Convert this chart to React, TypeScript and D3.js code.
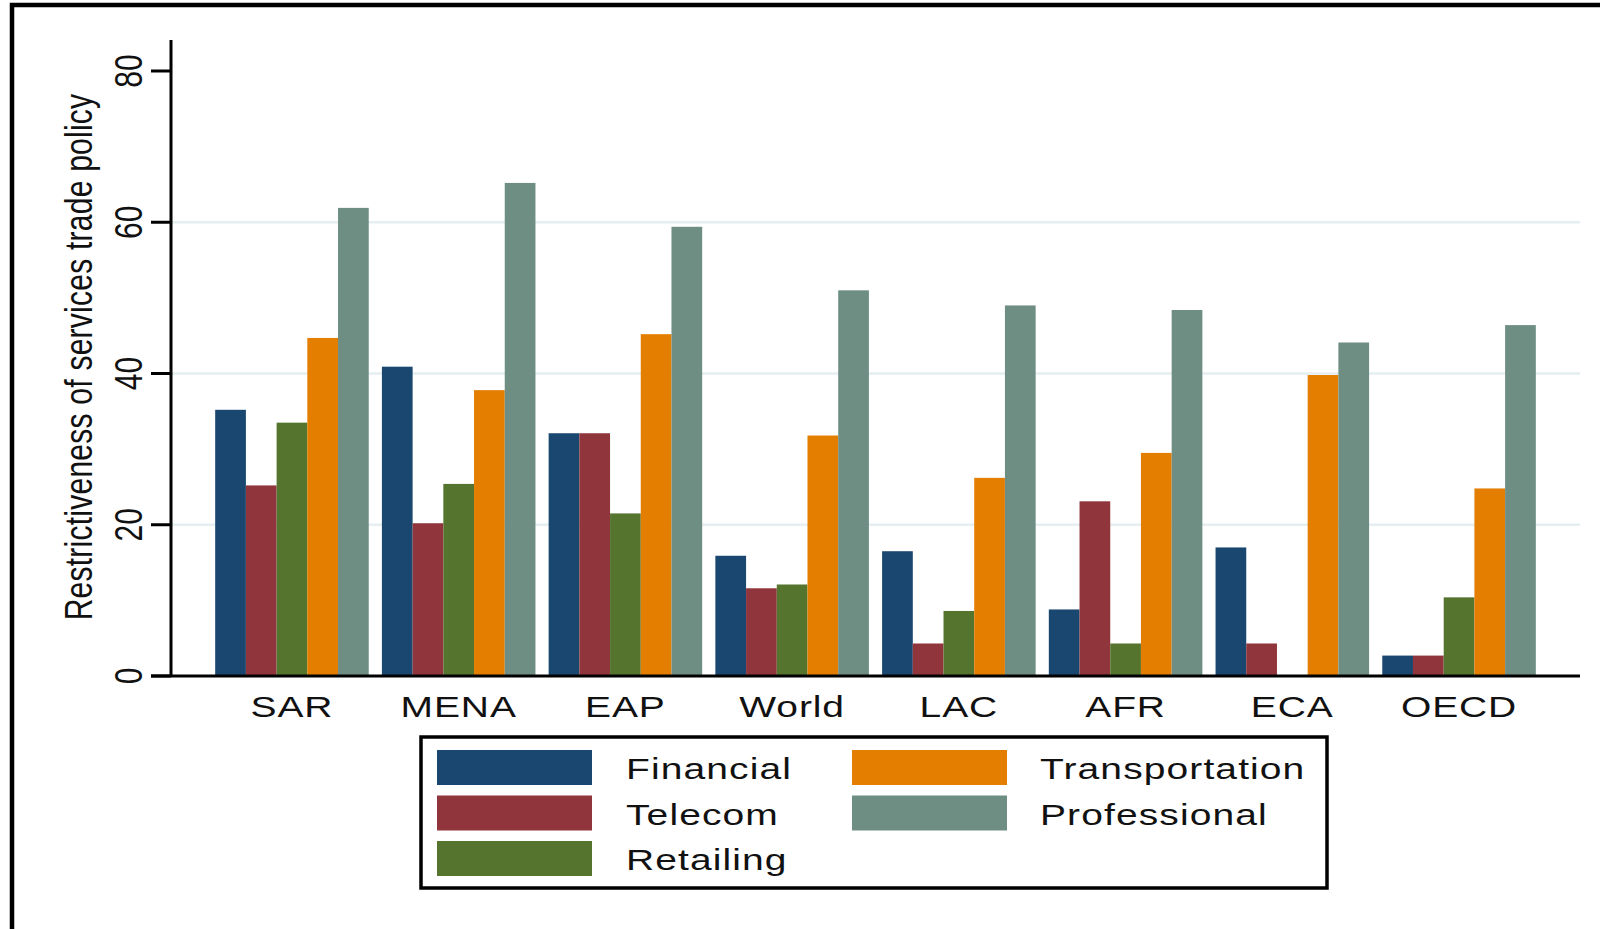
import React from "react";
import * as d3 from "d3";

const categories = ["SAR", "MENA", "EAP", "World", "LAC", "AFR", "ECA", "OECD"];
const seriesNames = ["Financial", "Telecom", "Retailing", "Transportation", "Professional"];
const financial = [35.2, 40.9, 32.1, 15.9, 16.5, 8.8, 17.0, 2.7];
const telecom = [25.2, 20.2, 32.1, 11.6, 4.3, 23.1, 4.3, 2.7];
const retailing = [33.5, 25.4, 21.5, 12.1, 8.6, 4.3, 0, 10.4];
const transportation = [44.7, 37.8, 45.2, 31.8, 26.2, 29.5, 39.8, 24.8];
const professional = [61.9, 65.2, 59.4, 51.0, 49.0, 48.4, 44.1, 46.4];
const yTicks = [0, 20, 40, 60, 80];
const gridTicks = [20, 40, 60];
const seriesColors = ["#1a476f", "#90353b", "#55752f", "#e37e00", "#6e8e84"];
const yTitle = "Restrictiveness of services trade policy";

const seriesValues = [financial, telecom, retailing, transportation, professional];

const W = 1600;
const H = 929;
const FONT = "'Liberation Sans', Arial, sans-serif";
const SX = 1.3;
const FS = 30;

export default function App() {
  const plotLeft = 171;
  const plotRight = 1580;
  const y0 = 676;
  const y80 = 71;
  const x = d3
    .scaleBand<string>()
    .domain(categories)
    .range([plotLeft, plotRight])
    .paddingInner(0.079)
    .paddingOuter(0.265);
  const xi = d3
    .scaleBand<string>()
    .domain(seriesNames)
    .range([0, x.bandwidth()])
    .padding(0);
  const y = d3.scaleLinear().domain([0, 80]).range([y0, y80]);

  // legend layout
  const legX = 421;
  const legY = 737;
  const legW = 906;
  const legH = 151;
  const colX = [437, 852];
  const textX = [626, 1040];
  const rowY = [750, 795.5, 841];
  const swW = 155;
  const swH = 35;

  return (
    <svg
      width={W}
      height={H}
      viewBox={`0 0 ${W} ${H}`}
      style={{ position: "absolute", left: 0, top: 0, background: "#fff" }}
    >
      <rect x={0} y={0} width={W} height={H} fill="#fff" />
      {/* outer frame */}
      <rect x={12} y={5} width={W + 20} height={H + 40} fill="none" stroke="#000" strokeWidth={4.5} />

      {/* gridlines */}
      {gridTicks.map((t) => (
        <line key={"g" + t} x1={plotLeft} x2={plotRight} y1={y(t)} y2={y(t)} stroke="#e5eef0" strokeWidth={2.5} />
      ))}

      {/* bars */}
      {categories.map((c, ci) => (
        <g key={c} transform={`translate(${x(c)},0)`}>
          {seriesNames.map((s, si) => {
            const v = seriesValues[si][ci];
            if (!v) return null;
            return (
              <rect
                key={s}
                x={xi(s)}
                y={y(v)}
                width={xi.bandwidth()}
                height={y0 - y(v)}
                fill={seriesColors[si]}
              />
            );
          })}
        </g>
      ))}

      {/* axes */}
      <line x1={plotLeft} x2={plotLeft} y1={40} y2={y0} stroke="#000" strokeWidth={3} />
      <line x1={151} x2={plotRight} y1={y0} y2={y0} stroke="#000" strokeWidth={3} />
      {yTicks.map((t) => (
        <g key={"t" + t}>
          <line x1={151} x2={plotLeft} y1={y(t)} y2={y(t)} stroke="#000" strokeWidth={3} />
          <g transform={`translate(142,${y(t)}) scale(${SX},1) rotate(-90)`}>
            <text x={0} y={0} textAnchor="middle" fontFamily={FONT} fontSize={FS} fill="#111">
              {t}
            </text>
          </g>
        </g>
      ))}

      {/* y title */}
      <g transform={`translate(92,357) scale(${SX},1) rotate(-90)`}>
        <text x={0} y={0} textAnchor="middle" fontFamily={FONT} fontSize={FS} fill="#111" letterSpacing={0.25}>
          {yTitle}
        </text>
      </g>

      {/* x labels */}
      {categories.map((c) => (
        <g key={"l" + c} transform={`translate(${(x(c) as number) + x.bandwidth() / 2},717) scale(${SX},1)`}>
          <text x={0} y={0} textAnchor="middle" fontFamily={FONT} fontSize={FS} fill="#111" letterSpacing={0.7}>
            {c}
          </text>
        </g>
      ))}

      {/* legend */}
      <rect x={legX} y={legY} width={legW} height={legH} fill="#fff" stroke="#000" strokeWidth={3.5} />
      {seriesNames.map((s, i) => {
        const col = Math.floor(i / 3);
        const row = i % 3;
        return (
          <g key={"leg" + s}>
            <rect x={colX[col]} y={rowY[row]} width={swW} height={swH} fill={seriesColors[i]} />
            <g transform={`translate(${textX[col]},${rowY[row] + 29}) scale(${SX},1)`}>
              <text x={0} y={0} fontFamily={FONT} fontSize={FS} fill="#111" letterSpacing={0.85}>
                {s}
              </text>
            </g>
          </g>
        );
      })}
    </svg>
  );
}
